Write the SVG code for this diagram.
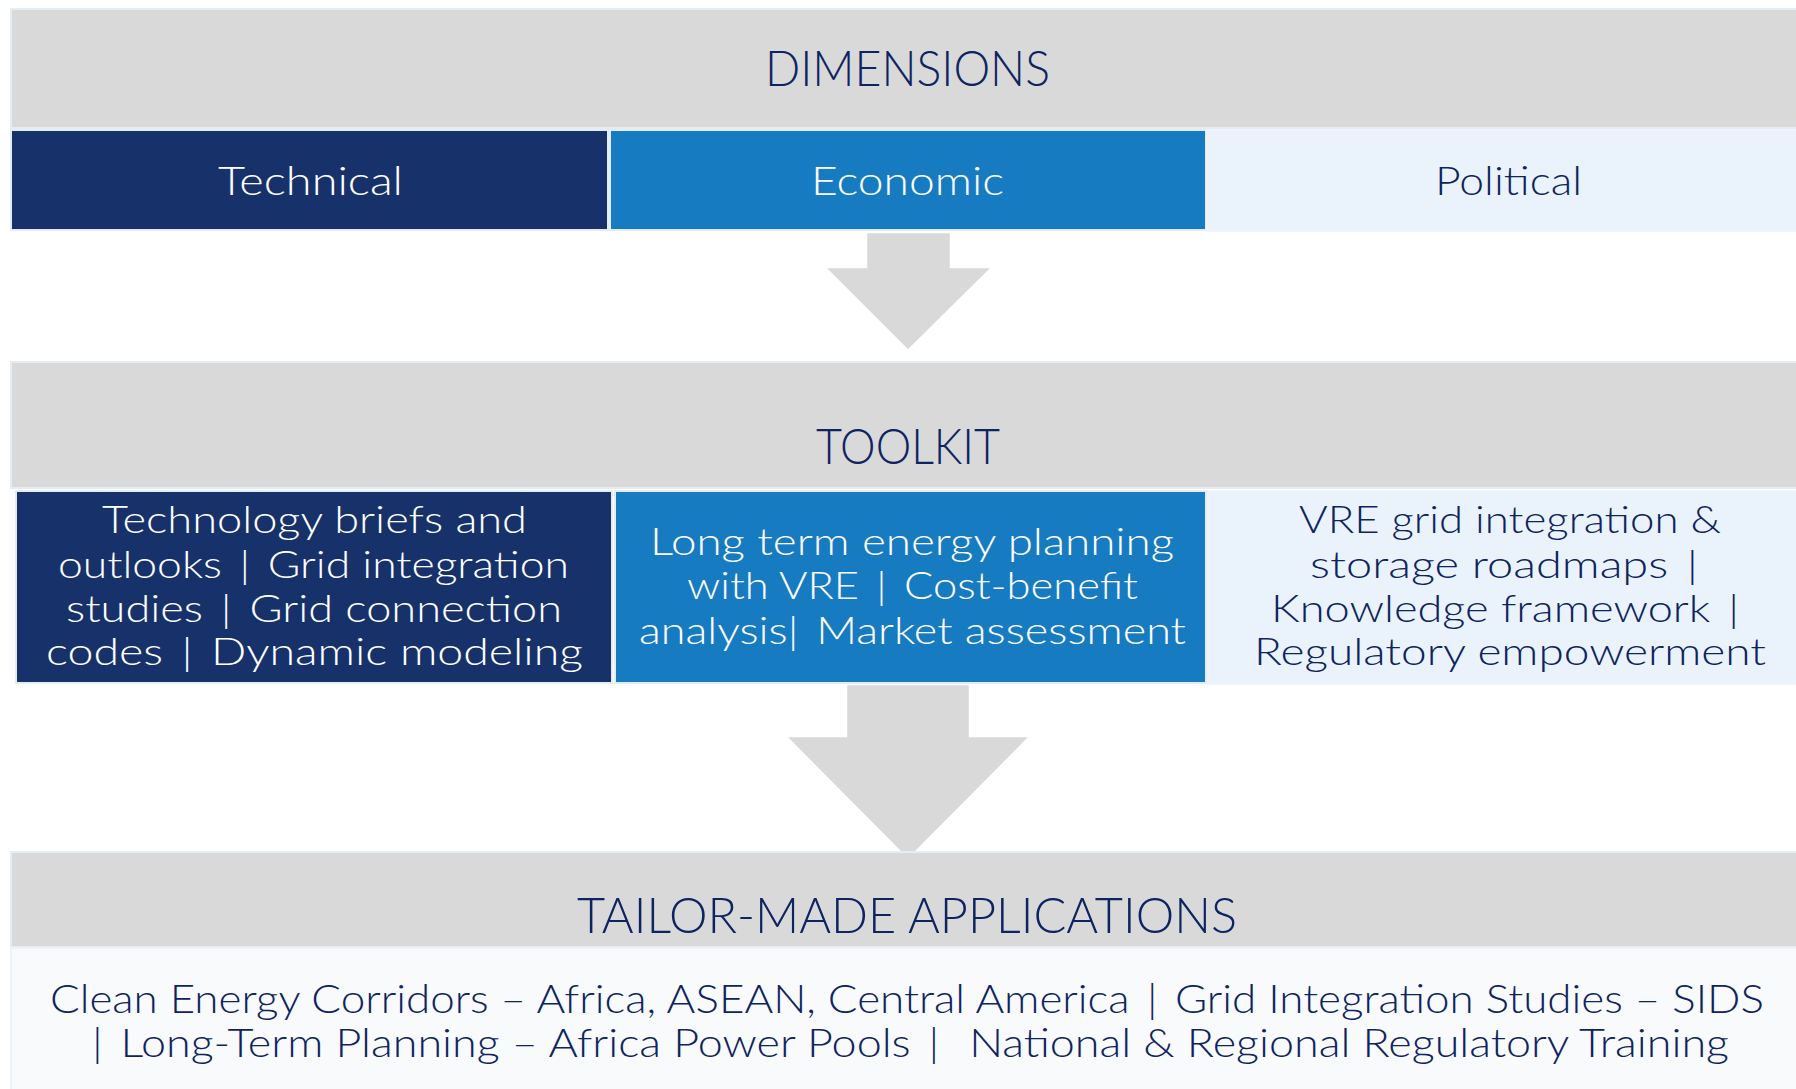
<svg xmlns="http://www.w3.org/2000/svg" width="1796" height="1089" viewBox="0 0 1796 1089">
<style>
.band{fill:#D9D9D9;stroke:#E4ECF4;stroke-width:2}
.dark{fill:#17326B;stroke:#E4ECF4;stroke-width:2}
.blue{fill:#177BC2;stroke:#E4ECF4;stroke-width:2}
.light{fill:#EAF3FB;stroke:#EEF4FA;stroke-width:2}
.body{fill:#F9FAFB;stroke:#EEF2F6;stroke-width:2}
.arrow{fill:#D9D9D9;stroke:#FFFFFF;stroke-width:2.5;stroke-linejoin:miter}
text{font-family:Lato,"Noto Sans","Liberation Sans",sans-serif;font-weight:300;white-space:pre}
.hd{font-size:49px;fill:#0E2461}
.lb{font-size:40px}
.tk{font-size:38px}
.ap{font-size:39px;fill:#0E2461}
.w{fill:#FFFFFF}
.n{fill:#0E2461}
</style>
<rect x="0" y="0" width="1796" height="1089" fill="#FFFFFF"/>
<g id="connectors">
<polygon class="arrow" points="866,232 951,232 951,267 993,267 908,351 824,267 866,267"/>
<polygon class="arrow" points="846,684 970,684 970,736 1031,736 908,860 785,736 846,736"/>
</g>
<g id="dimensions">
<rect class="band" x="11" y="9" width="1790" height="119"/>
<text class="hd" x="765" y="86" textLength="285" lengthAdjust="spacingAndGlyphs">DIMENSIONS</text>
</g>
<g id="technical">
<rect class="dark" x="11" y="130" width="597" height="100"/>
<text class="lb w" x="218" y="195" textLength="185" lengthAdjust="spacingAndGlyphs">Technical</text>
</g>
<g id="economic">
<rect class="blue" x="610" y="130" width="596" height="100"/>
<text class="lb w" x="811" y="195" textLength="193" lengthAdjust="spacingAndGlyphs">Economic</text>
</g>
<g id="political">
<rect class="light" x="1207" y="130" width="594" height="101"/>
<text class="lb n" x="1435" y="195" textLength="147" lengthAdjust="spacingAndGlyphs">Political</text>
</g>
<g id="toolkit">
<rect class="band" x="11" y="362" width="1790" height="126"/>
<text class="hd" x="816" y="464" textLength="184" lengthAdjust="spacingAndGlyphs">TOOLKIT</text>
</g>
<g id="toolkit-technical">
<rect class="dark" x="16" y="491" width="596" height="192"/>
<text class="tk w" x="102" y="533" textLength="425" lengthAdjust="spacingAndGlyphs">Technology briefs and</text>
<text class="tk w" x="58" y="578" textLength="511" lengthAdjust="spacingAndGlyphs">outlooks &#x2009;| &#x2009;Grid integration</text>
<text class="tk w" x="66" y="622" textLength="496" lengthAdjust="spacingAndGlyphs">studies &#x2009;| &#x2009;Grid connection</text>
<text class="tk w" x="46" y="665" textLength="537" lengthAdjust="spacingAndGlyphs">codes &#x2009;| &#x2009;Dynamic modeling</text>
</g>
<g id="toolkit-economic">
<rect class="blue" x="615" y="491" width="591" height="192"/>
<text class="tk w" x="650" y="555" textLength="524" lengthAdjust="spacingAndGlyphs">Long term energy planning</text>
<text class="tk w" x="687" y="599" textLength="451" lengthAdjust="spacingAndGlyphs">with VRE &#x2009;| &#x2009;Cost-benefit</text>
<text class="tk w" x="639" y="644" textLength="547" lengthAdjust="spacingAndGlyphs">analysis| &#x2009;Market assessment</text>
</g>
<g id="toolkit-political">
<rect class="light" x="1208" y="491" width="593" height="193"/>
<text class="tk n" x="1299" y="533" textLength="422" lengthAdjust="spacingAndGlyphs">VRE grid integration &amp;</text>
<text class="tk n" x="1310" y="578" textLength="388" lengthAdjust="spacingAndGlyphs">storage roadmaps &#x2009;|</text>
<text class="tk n" x="1271" y="622" textLength="468" lengthAdjust="spacingAndGlyphs">Knowledge framework &#x2009;|</text>
<text class="tk n" x="1254" y="665" textLength="512" lengthAdjust="spacingAndGlyphs">Regulatory empowerment</text>
</g>
<g id="applications">
<rect class="band" x="11" y="852" width="1790" height="95"/>
<text class="hd" x="577" y="933" textLength="660" lengthAdjust="spacingAndGlyphs">TAILOR-MADE APPLICATIONS</text>
</g>
<g id="applications-list">
<rect class="body" x="11" y="948" width="1790" height="145"/>
<text class="ap" x="50" y="1013" textLength="1714" lengthAdjust="spacingAndGlyphs">Clean Energy Corridors – Africa, ASEAN, Central America &#x2009;| &#x2009;Grid Integration Studies – SIDS</text>
<text class="ap" x="92" y="1057" textLength="1637" lengthAdjust="spacingAndGlyphs">| &#x2009;Long-Term Planning – Africa Power Pools &#x2009;|  &#x2009;National &amp; Regional Regulatory Training</text>
</g>
</svg>
